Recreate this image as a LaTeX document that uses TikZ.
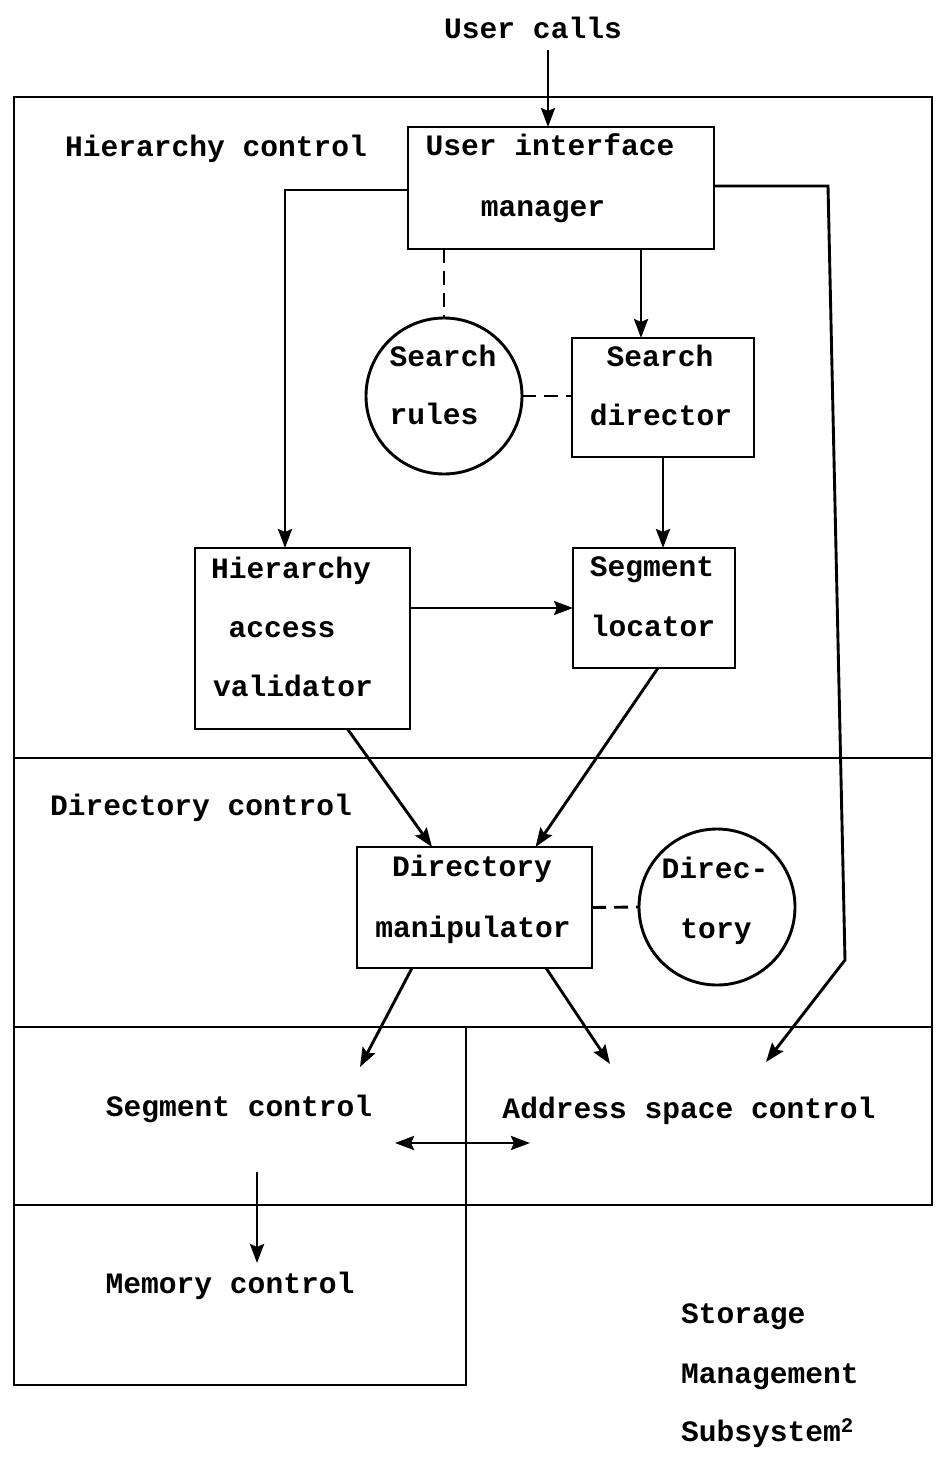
\documentclass[tikz,border=0pt]{standalone}
\usepackage{fontspec}
\newfontfamily\tw{Liberation Mono}
\usetikzlibrary{arrows.meta}

\begin{document}
\begin{tikzpicture}[x=1pt, y=-1pt, line width=2.9pt,
  every node/.style={inner sep=0pt, outer sep=0pt},
  lbl/.style={font=\tw\bfseries\fontsize{29.6}{36}\selectfont, text height=0.66em, text depth=0pt, yshift=-7pt},
  box/.style={draw, rectangle},
  store/.style={draw, circle, minimum size=156pt},
  arr/.style={-{Stealth[length=19pt, width=14pt, inset=3pt]}},
  dbl/.style={{Stealth[length=19pt, width=14pt, inset=3pt]}-{Stealth[length=19pt, width=14pt, inset=3pt]}},
  link/.style={dash pattern=on 14pt off 8pt}]
\useasboundingbox (0,0) rectangle (938,1459);

% subsystem frame and its layers
\draw (14,97) rectangle (932,1205);
\draw (14,1205) -- (14,1385) -- (466,1385) -- (466,1027);
\draw (14,758) -- (932,758);
\draw (14,1027) -- (932,1027);

% modules
\node[box, minimum width=306pt, minimum height=122pt] (uim) at (561,188) {};
\node[box, minimum width=182pt, minimum height=119pt] (sd) at (663,397.5) {};
\node[box, minimum width=215pt, minimum height=181pt] (hav) at (302.5,638.5) {};
\node[box, minimum width=162pt, minimum height=120pt] (sl) at (654,608) {};
\node[box, minimum width=235pt, minimum height=121pt] (dm) at (474.5,907.5) {};
\node[store] (rules) at (444,396) {};
\node[store] (dir) at (717,907) {};

% texts
\node[lbl] (calls) at (533,28) {User calls};
\node[lbl] (hctl) at (216,146) {Hierarchy control};
\node[lbl] (uim1) at (550,145) {User interface};
\node[lbl] (uim2) at (543,206) {manager};
\node[lbl] (sr1) at (443,356) {Search};
\node[lbl] (sr2) at (434,414) {rules};
\node[lbl] (sd1) at (660,356) {Search};
\node[lbl] (sd2) at (661,415) {director};
\node[lbl] (hav1) at (291,568) {Hierarchy};
\node[lbl] (hav2) at (282,627) {access};
\node[lbl] (hav3) at (293,686) {validator};
\node[lbl] (sl1) at (652,566) {Segment};
\node[lbl] (sl2) at (653,626) {locator};
\node[lbl] (dctl) at (201,805) {Directory control};
\node[lbl] (dm1) at (472,866) {Directory};
\node[lbl] (dm2) at (473,927) {manipulator};
\node[lbl] (dir1) at (715,868) {Direc-};
\node[lbl] (dir2) at (716,928) {tory};
\node[lbl] (sctl) at (239,1106) {Segment control};
\node[lbl] (actl) at (689,1108) {Address space control};
\node[lbl] (mctl) at (230,1283) {Memory control};
\node[lbl, anchor=west] (ssm1) at (681,1313) {Storage};
\node[lbl, anchor=west] (ssm2) at (681,1373) {Management};
\node[lbl, anchor=west] (ssm3) at (681,1431) {Subsystem\textsuperscript{2}};

% free ends of connectors
\coordinate (bend1) at (828,186);
\coordinate (bend2) at (845,960);
\coordinate (astip) at (766,1062);
\coordinate (sctip) at (360,1067);
\coordinate (adtip) at (610,1064);
\coordinate (xl) at (395,1143);
\coordinate (xr) at (530,1143);
\coordinate (mtop) at (257,1172);
\coordinate (mtip) at (257,1263);

% connectors
\draw[arr] ([xshift=-13pt]uim.north |- 0,50) -- ([xshift=-13pt]uim.north);
\draw[arr] ([yshift=-2pt]uim.west) -| ([xshift=-17.5pt]hav.north);
\draw[arr] ([yshift=2pt]uim.east) -- (bend1) -- (bend2) -- (astip);
\draw[link] (uim.south -| rules.north) -- (rules.north);
\draw[arr] ([xshift=-22pt]sd.north |- uim.south) -- ([xshift=-22pt]sd.north);
\draw[link] (rules.east) -- (sd.west |- rules.east);
\draw[arr] (sd.south) -- (sd.south |- sl.north);
\draw[arr] (hav.east |- sl.west) -- (sl.west);
\draw[arr] ([xshift=45pt]hav.south) -- ([xshift=-42.5pt]dm.north);
\draw[arr] ([xshift=4pt]sl.south) -- ([xshift=61pt]dm.north);
\draw[link] (dm.east) -- (dir.west);
\draw[arr] ([xshift=-62.5pt]dm.south) -- (sctip);
\draw[arr] ([xshift=71.5pt]dm.south) -- (adtip);
\draw[dbl] (xl) -- (xr);
\draw[arr] (mtop) -- (mtip);
\end{tikzpicture}
\end{document}
